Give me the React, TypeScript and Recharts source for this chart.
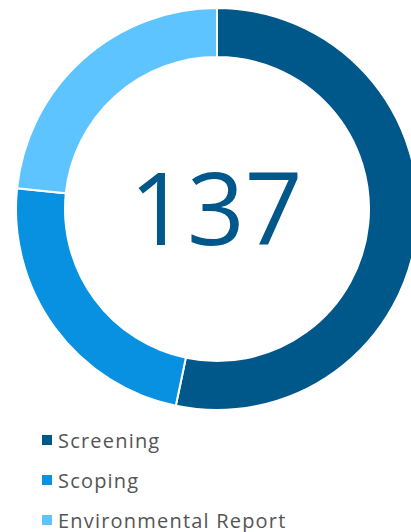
import React from "react";
import { PieChart, Pie, Cell, Legend, Label } from "recharts";

const categories = ["Screening", "Scoping", "Environmental Report"];
const values = [73, 32, 32];
const colors = ["#00578a", "#0891e0", "#5ec4ff"];
const totalLabel = "137";

const data = categories.map((name, i) => ({ name, value: values[i] }));

const renderLegend = () => {
  return (
    <div style={{ fontFamily: "'Open Sans', sans-serif" }}>
      {categories.map((name, i) => (
        <div
          key={name}
          style={{ display: "flex", alignItems: "center", height: 40 }}
        >
          <span
            style={{
              display: "inline-block",
              width: 10,
              height: 10,
              background: colors[i],
              marginRight: 6,
            }}
          />
          <span style={{ fontSize: 20, color: "#555555", letterSpacing: 1.2 }}>
            {name}
          </span>
        </div>
      ))}
    </div>
  );
};

export default function App() {
  return (
    <div style={{ position: "absolute", left: 0, top: 0, width: 411, height: 532, background: "#fff" }}>
      <PieChart width={411} height={532} margin={{ top: 0, right: 0, bottom: 0, left: 0 }}>
        <Pie
          data={data}
          dataKey="value"
          nameKey="name"
          cx={217}
          cy={209}
          innerRadius={152}
          outerRadius={201}
          startAngle={90}
          endAngle={-270}
          stroke="#ffffff"
          strokeWidth={2}
          isAnimationActive={false}
        >
          {data.map((d, i) => (
            <Cell key={d.name} fill={colors[i]} />
          ))}
          <Label
            position="center"
            content={() => (
              <text
                x={216}
                y={245}
                textAnchor="middle"
                fill="#00578a"
                fontSize={101}
                fontFamily="'Open Sans', sans-serif"
                fontWeight={500}
              >
                {totalLabel}
              </text>
            )}
          />
        </Pie>
        <Legend
          layout="horizontal"
          verticalAlign="bottom"
          align="left"
          content={renderLegend}
          wrapperStyle={{ position: "absolute", left: 42, top: 420, width: 360, height: 112, bottom: "auto" }}
        />
      </PieChart>
    </div>
  );
}
